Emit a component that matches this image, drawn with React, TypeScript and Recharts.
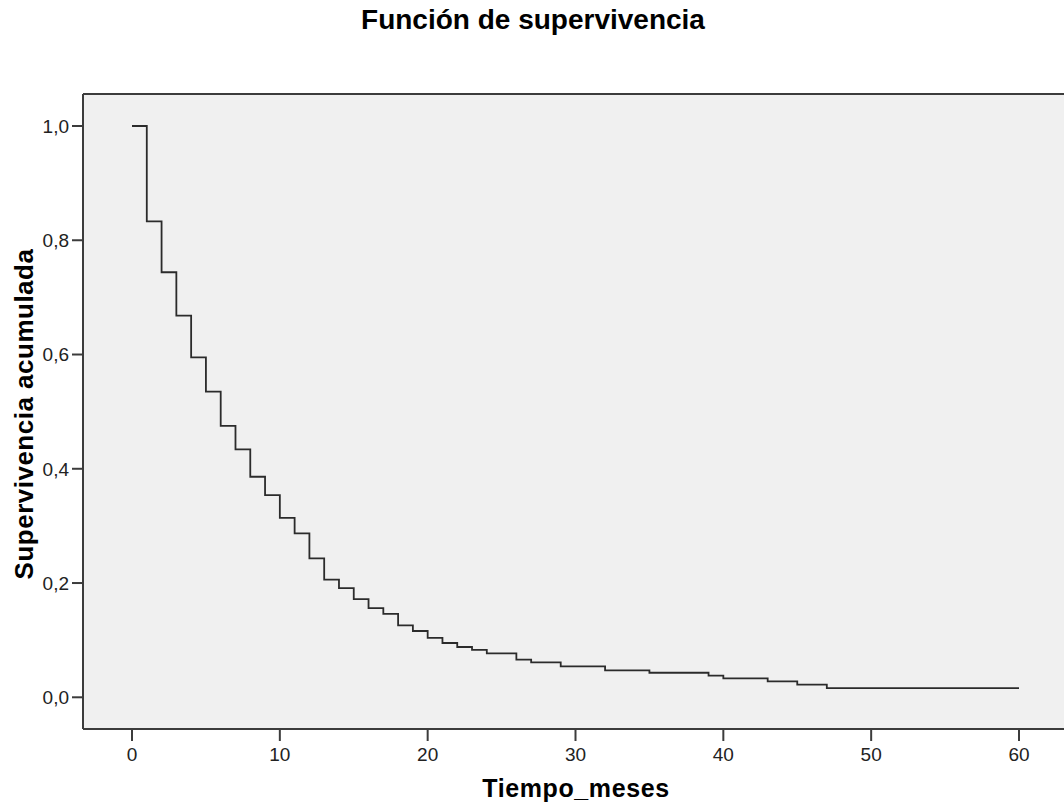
import React from "react";
import {
  LineChart,
  Line,
  XAxis,
  YAxis,
  CartesianGrid,
  ReferenceLine,
} from "recharts";

// Kaplan-Meier estimate
const months = [
  0, 1, 2, 3, 4, 5, 6, 7, 8, 9, 10, 11, 12, 13, 14, 15, 16, 17, 18, 19, 20, 21,
  22, 23, 24, 26, 27, 29, 32, 35, 39, 40, 43, 45, 47, 60,
];
const survival = [
  1.0, 0.833, 0.744, 0.668, 0.595, 0.535, 0.475, 0.434, 0.386, 0.354, 0.314,
  0.287, 0.243, 0.206, 0.191, 0.172, 0.156, 0.146, 0.126, 0.116, 0.104, 0.095,
  0.088, 0.083, 0.077, 0.066, 0.061, 0.054, 0.047, 0.043, 0.038, 0.033, 0.028,
  0.022, 0.016, 0.016,
];
const xTicks = [0, 10, 20, 30, 40, 50, 60];
const yTicks = [0, 0.2, 0.4, 0.6, 0.8, 1.0];

const data = months.map((t, i) => ({ t, s: survival[i] }));

const FONT = '"Liberation Sans", Arial, Helvetica, sans-serif';
const AXIS = "#3c3c3c";
const X_DOMAIN: [number, number] = [-3.315, 63.45];
const Y_DOMAIN: [number, number] = [-0.0555, 1.056];

export default function App() {
  return (
    <div
      style={{
        position: "absolute",
        left: 0,
        top: 0,
        width: 1064,
        height: 811,
        overflow: "hidden",
        background: "#fff",
        fontFamily: FONT,
      }}
    >
      <LineChart
        width={1070}
        height={811}
        data={data}
        margin={{ top: 94, right: 0, bottom: 0, left: 0 }}
      >
        <CartesianGrid
          horizontal={false}
          vertical={false}
          fill="#f0f0f0"
          stroke="none"
        />
        <XAxis
          type="number"
          dataKey="t"
          domain={X_DOMAIN}
          allowDataOverflow
          ticks={xTicks}
          height={82}
          tickSize={12}
          tickMargin={7}
          axisLine={{ stroke: AXIS, strokeWidth: 2 }}
          tickLine={{ stroke: AXIS, strokeWidth: 2 }}
          tick={{ fontSize: 19, fill: "#222", fontFamily: FONT }}
        />
        <YAxis
          type="number"
          domain={Y_DOMAIN}
          allowDataOverflow
          ticks={yTicks}
          width={83}
          tickSize={11}
          tickMargin={3}
          axisLine={{ stroke: AXIS, strokeWidth: 2 }}
          tickLine={{ stroke: AXIS, strokeWidth: 2 }}
          tick={{ fontSize: 19, fill: "#222", fontFamily: FONT }}
          tickFormatter={(v: number) => v.toFixed(1).replace(".", ",")}
        />
        <ReferenceLine y={Y_DOMAIN[1]} stroke={AXIS} strokeWidth={2} />
        <Line
          type="stepAfter"
          dataKey="s"
          stroke="#2b2b2b"
          strokeWidth={1.8}
          dot={false}
          activeDot={false}
          isAnimationActive={false}
        />
      </LineChart>
      <svg
        width={1064}
        height={811}
        style={{ position: "absolute", left: 0, top: 0, pointerEvents: "none" }}
      >
        <text
          x={533}
          y={29}
          textAnchor="middle"
          fontSize={28}
          fontWeight="bold"
          fontFamily={FONT}
          fill="#000"
        >
          Función de supervivencia
        </text>
        <text
          x={576}
          y={797}
          textAnchor="middle"
          fontSize={25}
          fontWeight="bold"
          letterSpacing={0.6}
          fontFamily={FONT}
          fill="#000"
        >
          Tiempo_meses
        </text>
        <text
          x={0}
          y={0}
          transform="translate(33,414) rotate(-90)"
          textAnchor="middle"
          fontSize={26}
          fontWeight="bold"
          letterSpacing={0.5}
          fontFamily={FONT}
          fill="#000"
        >
          Supervivencia acumulada
        </text>
      </svg>
    </div>
  );
}
